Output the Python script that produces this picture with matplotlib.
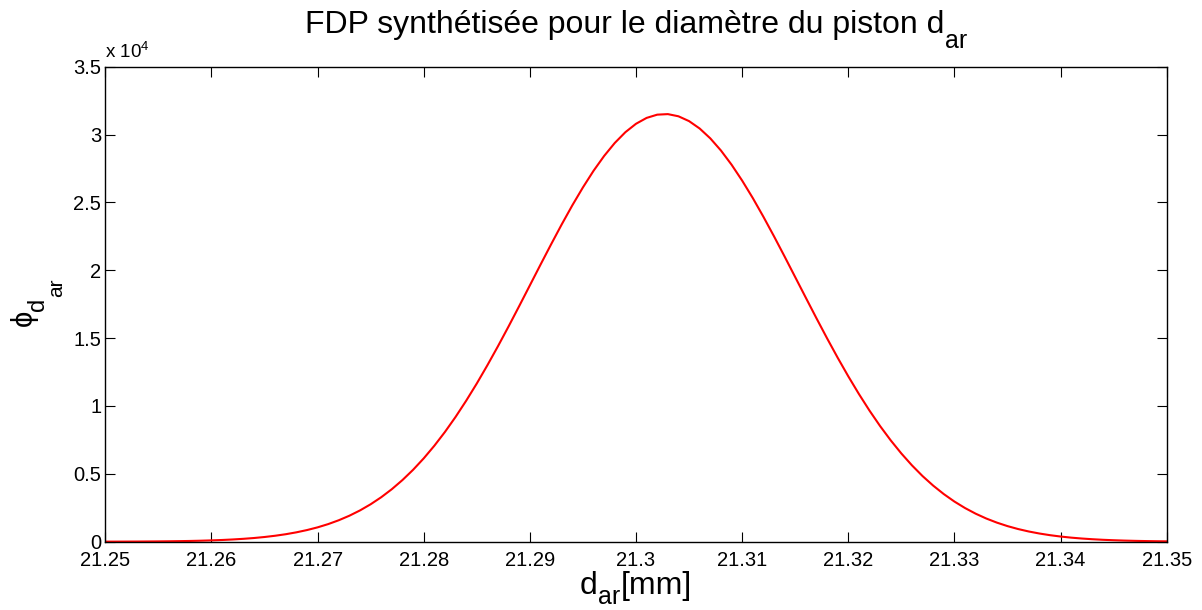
import matplotlib
matplotlib.use("Agg")
import matplotlib.pyplot as plt

plt.rcParams['font.family'] = ['Liberation Sans', 'DejaVu Sans']
plt.rcParams['mathtext.fontset'] = 'custom'
plt.rcParams['mathtext.rm'] = 'Liberation Sans'
plt.rcParams['mathtext.it'] = 'Liberation Sans'
plt.rcParams['mathtext.bf'] = 'Liberation Sans:bold'

# Values
d_ar = [21.250, 21.251, 21.252, 21.253, 21.254, 21.255, 21.256, 21.257, 21.258, 21.259,
        21.260, 21.261, 21.262, 21.263, 21.264, 21.265, 21.266, 21.267, 21.268, 21.269,
        21.270, 21.271, 21.272, 21.273, 21.274, 21.275, 21.276, 21.277, 21.278, 21.279,
        21.280, 21.281, 21.282, 21.283, 21.284, 21.285, 21.286, 21.287, 21.288, 21.289,
        21.290, 21.291, 21.292, 21.293, 21.294, 21.295, 21.296, 21.297, 21.298, 21.299,
        21.300, 21.301, 21.302, 21.303, 21.304, 21.305, 21.306, 21.307, 21.308, 21.309,
        21.310, 21.311, 21.312, 21.313, 21.314, 21.315, 21.316, 21.317, 21.318, 21.319,
        21.320, 21.321, 21.322, 21.323, 21.324, 21.325, 21.326, 21.327, 21.328, 21.329,
        21.330, 21.331, 21.332, 21.333, 21.334, 21.335, 21.336, 21.337, 21.338, 21.339,
        21.340, 21.341, 21.342, 21.343, 21.344, 21.345, 21.346, 21.347, 21.348, 21.349,
        21.350]
phi = [5, 6, 9, 12, 17, 23, 31, 42, 55, 73,
       97, 126, 164, 212, 271, 346, 438, 551, 690, 857,
       1057, 1297, 1582, 1916, 2306, 2759, 3279, 3873, 4545, 5299,
       6140, 7070, 8087, 9193, 10387, 11657, 13004, 14411, 15870, 17368,
       18887, 20409, 21910, 23378, 24784, 26106, 27330, 28426, 29381, 30175,
       30794, 31227, 31466, 31506, 31346, 30990, 30444, 29719, 28827, 27783,
       26608, 25326, 23948, 22505, 21014, 19495, 17976, 16467, 14989, 13558,
       12187, 10885, 9659, 8518, 7466, 6501, 5625, 4834, 4132, 3508,
       2958, 2480, 2065, 1709, 1406, 1149, 933, 753, 604, 481,
       381, 299, 234, 182, 140, 108, 82, 62, 47, 35,
       26]

x_ticks = [21.25, 21.26, 21.27, 21.28, 21.29, 21.30, 21.31, 21.32, 21.33, 21.34, 21.35]
x_tick_labels = ['21.25', '21.26', '21.27', '21.28', '21.29', '21.3', '21.31', '21.32', '21.33', '21.34', '21.35']
y_ticks = [0, 5000, 10000, 15000, 20000, 25000, 30000, 35000]
y_tick_labels = ['0', '0.5', '1', '1.5', '2', '2.5', '3', '3.5']

W, H = 1202, 610
fig = plt.figure(figsize=(W / 100, H / 100), dpi=100)
ax = fig.add_axes([105.3 / W, 1 - 541.7 / H, (1166.7 - 105.3) / W, (541.7 - 66.7) / H])

ax.plot(d_ar, phi, color='#ff0000', lw=1.5)

ax.set_xlim(21.25, 21.35)
ax.set_ylim(0, 35000)
ax.set_xticks(x_ticks)
ax.set_xticklabels(x_tick_labels)
ax.set_yticks(y_ticks)
ax.set_yticklabels(y_tick_labels)

ax.tick_params(direction='in', length=7.5, width=0.8, top=True, right=True,
               labelsize=14.5, colors='black')
ax.tick_params(axis='x', pad=6.5)
ax.tick_params(axis='y', pad=3)
for s in ax.spines.values():
    s.set_linewidth(1.0)
    s.set_color('black')

ax.text(0.0, 1.01, r'x 10$^{4}$', transform=ax.transAxes, fontsize=13.5,
        ha='left', va='bottom')


def px(x, y):
    return x / W, 1 - y / H


renderer = fig.canvas.get_renderer()

# Title with MATLAB-style subscript
t_main = fig.text(*px(305, 33), 'FDP synthétisée pour le diamètre du piston d',
                  fontsize=23, ha='left', va='baseline')
bb = t_main.get_window_extent(renderer=renderer)
fig.text((bb.x1 + 1) / W, 1 - 48 / H, 'ar', fontsize=18, ha='left', va='baseline')

# x label
t_d = fig.text(*px(580, 594), 'd', fontsize=23, ha='left', va='baseline')
bb = t_d.get_window_extent(renderer=renderer)
t_ar = fig.text((bb.x1 + 0.5) / W, 1 - 604 / H, 'ar', fontsize=18, ha='left', va='baseline')
bb2 = t_ar.get_window_extent(renderer=renderer)
fig.text((bb2.x1 + 0.5) / W, 1 - 594 / H, '[mm]', fontsize=23, ha='left', va='baseline')

# y label (rotated)
fig.text(*px(23.5, 318), 'ϕ', fontsize=21, rotation=90, ha='center', va='center')
fig.text(*px(38, 304), 'd', fontsize=17, rotation=90, ha='center', va='center')
fig.text(*px(56.5, 287.5), 'ar', fontsize=15, rotation=90, ha='center', va='center')

fig.savefig('out.png', dpi=100)
